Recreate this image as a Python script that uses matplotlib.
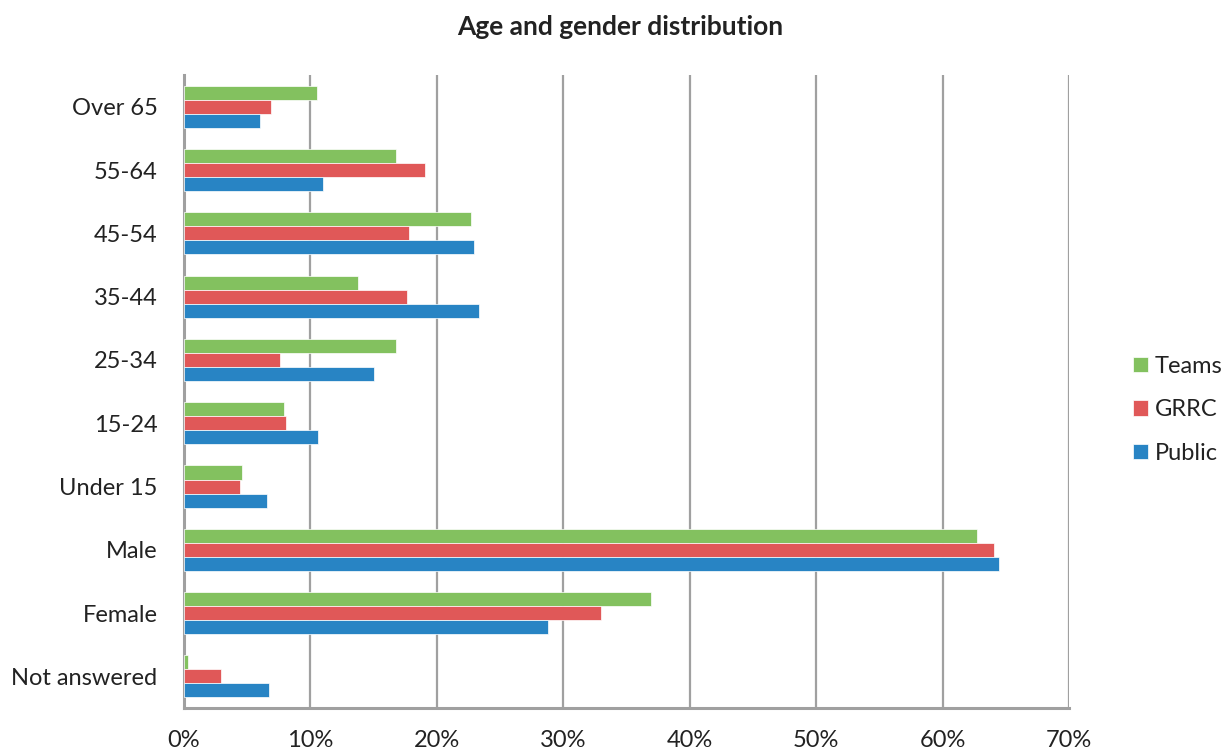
import numpy as np
import matplotlib.pyplot as plt

# categories from top to bottom as they appear
categories = ['Over 65', '55-64', '45-54', '35-44', '25-34', '15-24',
              'Under 15', 'Male', 'Female', 'Not answered']

# percent values
teams = [10.5, 16.8, 22.7, 13.8, 16.8, 7.9, 4.6, 62.7, 36.9, 0.3]
grrc = [6.9, 19.1, 17.8, 17.6, 7.6, 8.1, 4.4, 64.1, 33.0, 2.9]
public = [6.0, 11.0, 22.9, 23.3, 15.0, 10.6, 6.6, 64.5, 28.8, 6.7]

plt.rcParams['font.family'] = ['Lato', 'DejaVu Sans']

fig = plt.figure(figsize=(12.3, 7.52), dpi=100)
ax = fig.add_axes([0.1496, 0.0585, 0.7195, 0.8415])

y = np.arange(len(categories))
h = 0.222
ax.barh(y - h, teams, height=h, color='#83C15F', edgecolor='white', linewidth=0.5, label='Teams', zorder=3)
ax.barh(y, grrc, height=h, color='#E05858', edgecolor='white', linewidth=0.5, label='GRRC', zorder=3)
ax.barh(y + h, public, height=h, color='#2884C4', edgecolor='white', linewidth=0.5, label='Public', zorder=3)

ax.set_ylim(len(categories) - 0.5, -0.5)
ax.set_yticks(y)
ax.set_yticklabels(categories, fontsize=17, color='#222222')
ax.set_xlim(0, 70)
ax.set_xticks(range(0, 71, 10))
ax.set_xticklabels(['%d%%' % v for v in range(0, 71, 10)], fontsize=17, color='#222222')
ax.tick_params(length=0)
ax.tick_params(axis='x', pad=16)
ax.tick_params(axis='y', pad=19)

ax.grid(axis='x', color='#A0A0A0', linewidth=1.6, zorder=0)
for s in ['top', 'right']:
    ax.spines[s].set_visible(False)
for s in ['left', 'bottom']:
    ax.spines[s].set_color('#A0A0A0')
    ax.spines[s].set_linewidth(2.2)

fig.suptitle('Age and gender distribution', x=0.504, y=0.98, fontsize=19, fontweight='bold', color='#222222')

handles, labels = ax.get_legend_handles_labels()
fig.legend(handles, labels, loc='center left', bbox_to_anchor=(0.921, 0.455),
           frameon=False, fontsize=17, handlelength=0.63, handleheight=0.63,
           borderpad=0, borderaxespad=0,
           labelspacing=0.95, handletextpad=0.3, labelcolor='#222222')

fig.savefig('out.png', dpi=100)
